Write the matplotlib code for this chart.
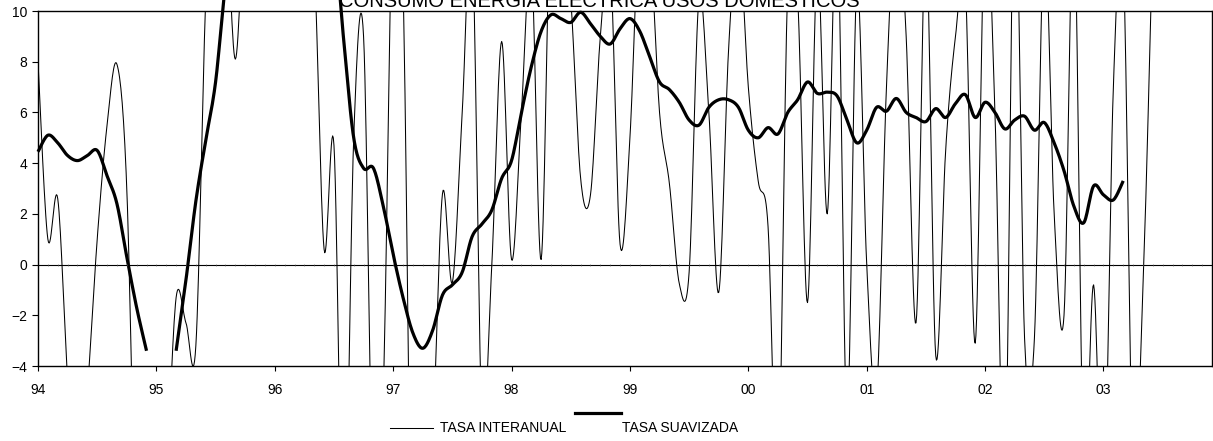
import numpy as np
import matplotlib
matplotlib.use("Agg")
import matplotlib.pyplot as plt
from matplotlib.lines import Line2D

plt.rcParams['font.family'] = ['Liberation Sans', 'DejaVu Sans']

# ################ data (monthly, Jan 94 = month 0) ###############################
year_labels = ['94', '95', '96', '97', '98', '99', '00', '01', '02', '03']

tasa_interanual = [
    8.0, 1.0, 2.6, -4.5, -9.0, -5.0, 1.0, 5.5, 7.9, 3.0,
    -12.0, -15.0, -13.0, -8.5, -1.3, -2.3, -3.2, 10.5, 18.0, 15.0,
    8.1, 15.0, 20.0, 22.0, 22.0, 20.0, 18.0, 16.0, 12.0, 0.6,
    4.7, -12.0, 5.0, 9.0, -10.0, -5.0, 15.0, 11.0, -15.0, -12.0,
    -7.0, 2.8, -0.7, 6.0, 13.0, -6.0, 0.0, 8.8, 0.2, 6.0,
    12.0, 0.2, 15.0, 14.0, 10.5, 3.4, 2.75, 9.0, 12.0, 0.8,
    5.0, 14.0, 13.0, 6.0, 3.2, -0.75, -0.3, 10.5, 6.0, -1.1,
    8.5, 13.0, 7.0, 3.3, 1.5, -9.0, 11.0, 10.5, -1.5, 12.0,
    2.0, 14.0, -6.0, 11.0, 0.0, -5.0, 7.0, 14.0, 9.0, -2.3,
    13.0, -3.6, 4.5, 9.0, 11.0, -3.1, 14.0, 6.0, -9.0, 16.0,
    -2.9, -2.9, 13.0, 2.0, -2.0, 14.0, -8.0, -0.8, -10.0, 7.0,
    12.0, -8.0, -1.0, 13.0,
]

tasa_suavizada = [
    4.45, 5.1, 4.8, 4.3, 4.1, 4.3, 4.5, 3.5, 2.4, 0.3,
    -1.7, -3.4, np.nan, np.nan, -3.4, -0.6, 2.5, 4.9, 7.2, 11.0,
    13.0, 15.0, 17.0, 18.0, 18.0, 17.0, 16.0, 15.0, 14.0, 13.5,
    13.0, 8.8, 5.0, 3.8, 3.8, 2.3, 0.4, -1.3, -2.7, -3.3,
    -2.6, -1.2, -0.8, -0.3, 1.1, 1.6, 2.15, 3.4, 4.1, 6.0,
    7.8, 9.2, 9.85, 9.7, 9.55, 9.95, 9.5, 9.0, 8.7, 9.3,
    9.7, 9.2, 8.2, 7.2, 6.9, 6.4, 5.7, 5.5, 6.2, 6.5,
    6.5, 6.2, 5.3, 5.0, 5.4, 5.15, 6.0, 6.5, 7.2, 6.75,
    6.8, 6.65, 5.7, 4.8, 5.3, 6.2, 6.05, 6.55, 6.0, 5.8,
    5.64, 6.15, 5.8, 6.35, 6.7, 5.8, 6.4, 6.0, 5.35, 5.7,
    5.85, 5.3, 5.6, 4.8, 3.7, 2.3, 1.65, 3.1, 2.75, 2.55,
    3.3,
]


def smooth(y, n=16):
    """Excel-like smoothed line (Catmull-Rom / Bezier) through monthly points, NaN breaks the line."""
    y = np.asarray(y, dtype=float)
    x = np.arange(len(y), dtype=float)
    xs, ys = [], []
    ok = np.isfinite(y)
    i = 0
    while i < len(y):
        if not ok[i]:
            i += 1
            continue
        j = i
        while j < len(y) and ok[j]:
            j += 1
        px, py = x[i:j], y[i:j]
        if len(px) > 1:
            P = np.column_stack([px, py])
            P = np.vstack([P[0], P, P[-1]])
            t = np.linspace(0, 1, n)[:, None]
            seg = []
            for k in range(1, len(P) - 2):
                p0, p1, p2, p3 = P[k - 1], P[k], P[k + 1], P[k + 2]
                c1 = p1 + (p2 - p0) / 6.0
                c2 = p2 - (p3 - p1) / 6.0
                b = ((1 - t) ** 3) * p1 + 3 * ((1 - t) ** 2) * t * c1 + 3 * (1 - t) * t ** 2 * c2 + t ** 3 * p2
                seg.append(b if k == 1 else b[1:])
            seg = np.vstack(seg)
            xs.extend(seg[:, 0]); ys.extend(seg[:, 1])
        xs.append(np.nan); ys.append(np.nan)
        i = j
    return np.array(xs), np.array(ys)


fig = plt.figure(figsize=(12.13, 4.41), dpi=100)
ax = fig.add_axes([38 / 1213, 1 - 366 / 441, (1212 - 38) / 1213, 355 / 441])

xi, yi = smooth(tasa_interanual)
ax.plot(xi, yi, color='black', lw=0.75)
xs, ys = smooth(tasa_suavizada)
ax.plot(xs, ys, color='black', lw=2.3, clip_on=False, solid_capstyle='butt')

months = np.arange(120)
ax.axhline(0, color='black', lw=0.8)
ax.plot(months, np.zeros(len(months)), '|', color='#555555', ms=1.8, mew=0.4)

ax.set_xlim(0, 119)
ax.set_ylim(-4, 10)
ax.set_yticks(range(-4, 11, 2))
ax.set_xticks(range(0, 120, 12))
ax.set_xticklabels(year_labels)
ax.tick_params(axis='y', length=4, width=0.8, pad=4, labelsize=10)
ax.tick_params(axis='x', length=3.5, width=0.8, pad=9, labelsize=10)
for s in ax.spines.values():
    s.set_linewidth(1.0)
    s.set_color('black')

fig.text(599 / 1213, 1 - 7 / 441, 'CONSUMO ENERGIA ELECTRICA USOS DOMESTICOS',
         ha='center', va='baseline', fontsize=14.5)

# legend drawn like the original
fig.add_artist(Line2D([390 / 1213, 433 / 1213], [1 - 428 / 441] * 2, color='black', lw=0.75))
fig.text(440 / 1213, 1 - 428 / 441, 'TASA INTERANUAL', ha='left', va='center', fontsize=10)
fig.add_artist(Line2D([575 / 1213, 621 / 1213], [1 - 413 / 441] * 2, color='black', lw=2.3))
fig.text(622 / 1213, 1 - 428 / 441, 'TASA SUAVIZADA', ha='left', va='center', fontsize=10)

fig.savefig('out.png', dpi=100)
